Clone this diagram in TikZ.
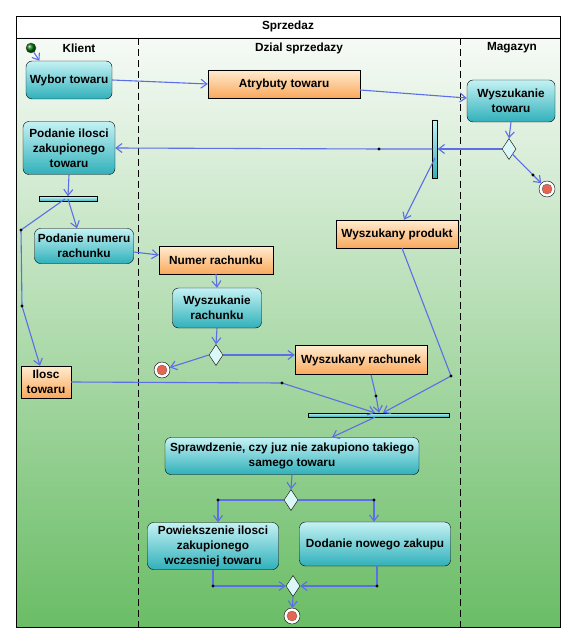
\documentclass[tikz,border=0pt]{standalone}
\usepackage{fontspec}
\setmainfont{Liberation Sans}
\usetikzlibrary{shapes.geometric}
\usetikzlibrary{arrows.meta}

\definecolor{flowblue}{RGB}{92,110,230}
\definecolor{actiontop}{RGB}{196,242,244}
\definecolor{actionbottom}{RGB}{48,176,186}
\definecolor{objecttop}{RGB}{255,236,208}
\definecolor{objectbottom}{RGB}{250,168,92}
\definecolor{lanetop}{RGB}{246,250,246}
\definecolor{lanebottom}{RGB}{106,189,102}
\definecolor{finalred}{RGB}{232,100,80}

\begin{document}
\begin{tikzpicture}[x=1pt,y=-1pt,
  font=\bfseries\fontsize{11.8}{15}\selectfont,
  action/.style 2 args={draw=black,rounded corners=6pt,
    top color=actiontop,bottom color=actionbottom,
    align=center,inner sep=2pt,
    minimum width=#1pt,minimum height=#2pt},
  object/.style 2 args={draw=black,
    top color=objecttop,bottom color=objectbottom,
    align=center,inner sep=2pt,
    minimum width=#1pt,minimum height=#2pt},
  syncbar/.style 2 args={draw=black,inner sep=0pt,
    top color=actiontop,bottom color=actionbottom,
    minimum width=#1pt,minimum height=#2pt},
  decision/.style={diamond,draw=black,fill=actiontop!60!white,
    inner sep=0pt,minimum width=14pt,minimum height=21pt},
  startnode/.style={circle,draw=black!70,inner sep=0pt,
    minimum size=10pt,ball color=green!45!black},
  endnode/.style={circle,draw=black,fill=white,inner sep=0pt,
    minimum size=16pt,
    path picture={\filldraw[fill=finalred,draw=black!60]
      (path picture bounding box.center) circle (5pt);}},
  flow/.style={draw=flowblue,line width=1.1pt,
    -{Straight Barb[length=6pt,width=9pt]}},
  lane/.style={dashed,dash pattern=on 7pt off 4pt,line width=0.8pt}]

\useasboundingbox
  (0,0)
  rectangle
  (576,644);
\fill[white]
  (0,0)
  rectangle
  (576,644);

% swimlanes
\shade[top color=lanetop,bottom color=lanebottom]
  (16,38)
  rectangle
  (560,627);
\draw[line width=0.9pt]
  (16,16)
  rectangle
  (560,627);
\draw[line width=0.9pt]
  (16,38)
  --
  (560,38);
\draw[lane]
  (138,38)
  --
  (138,627);
\draw[lane]
  (460,38)
  --
  (460,627);
\node (title) at (288,26) {Sprzedaz};
\node (klient) at (79,48) {Klient};
\node (dzial) at (299,48) {Dzial sprzedazy};
\node (magazyn) at (512,48) {Magazyn};

% nodes
\node[startnode] (start) at (31,48) {};
\node[action={86}{38}] (wybor) at (69,80) {Wybor towaru};
\node[object={152}{28}] (atrybuty) at (284,84) {Atrybuty towaru};
\node[action={88}{42}] (wyszTow) at (511,101) {Wyszukanie\\towaru};
\node[decision] (dec1) at (509,149) {};
\node[endnode] (end1) at (547,189) {};
\node[syncbar={5}{58}] (barV) at (435,149) {};
\node[action={92}{53}] (ilosci) at (69,148) {Podanie ilosci\\zakupionego\\towaru};
\node[syncbar={58}{5}] (forkH) at (68,199) {};
\node[action={99}{35}] (podNumer) at (84,246) {Podanie numeru\\rachunku};
\node[object={114}{28}] (numerRach) at (216,260) {Numer rachunku};
\node[object={122}{28}] (produkt) at (397,234) {Wyszukany produkt};
\node[action={89}{40}] (wyszRach) at (217,308) {Wyszukanie\\rachunku};
\node[decision] (dec2) at (216,355) {};
\node[endnode] (end2) at (162,370) {};
\node[object={132}{29}] (rachunek) at (361,360) {Wyszukany rachunek};
\node[object={50}{32}] (ilosc) at (46,382) {Ilosc\\towaru};
\node[syncbar={141}{4}] (joinH) at (379,415) {};
\node[action={254}{37}] (spraw) at (292,456) {Sprawdzenie, czy juz nie zakupiono takiego\\samego towaru};
\node[decision] (dec3) at (291,500) {};
\node[action={131}{47}] (powieksz) at (213,546) {Powiekszenie ilosci\\zakupionego\\wczesniej towaru};
\node[action={151}{44}] (dodanie) at (375,544) {Dodanie nowego zakupu};
\node[decision] (dec4) at (293,586) {};
\node[endnode] (end3) at (292,616) {};

% bend points
\coordinate (w1) at (533,175);
\coordinate (w2) at (379,149);
\coordinate (w3) at (21,230);
\coordinate (w4) at (22,306);
\coordinate (w5) at (282,383);
\coordinate (w6) at (376,396);
\coordinate (w7) at (451,376);
\coordinate (w8) at (218,500);
\coordinate (w9) at (374,500);
\coordinate (w10) at (213,586);
\coordinate (w11) at (377,586);

% flows
\draw[flow]
  (start)
  --
  (wybor.147);
\draw[flow]
  (wybor.east)
  --
  (atrybuty.west);
\draw[flow]
  ([yshift=-6pt]atrybuty.east)
  --
  ([yshift=3pt]wyszTow.west);
\draw[flow]
  (wyszTow.south)
  --
  (dec1.north);
\draw[flow]
  (dec1.west)
  --
  (barV.east);
\draw[flow]
  (dec1.south east)
  --
  (w1)
  --
  (end1);
\draw[flow]
  (barV.west)
  --
  (w2)
  --
  (ilosci.east);
\draw[flow]
  ([yshift=-9pt]barV.center)
  --
  ([xshift=7pt]produkt.north);
\draw[flow]
  (ilosci.south)
  --
  (forkH.north);
\draw[flow]
  (forkH.center)
  --
  ([xshift=-7pt]podNumer.north);
\draw[flow]
  ([xshift=-3pt]forkH.center)
  --
  (w3)
  --
  (w4)
  --
  ([xshift=-6pt]ilosc.north);
\draw[flow]
  ([yshift=-6pt]podNumer.east)
  --
  ([yshift=5pt]numerRach.west);
\draw[flow]
  (numerRach.south)
  --
  (wyszRach.north);
\draw[flow]
  (wyszRach.south)
  --
  (dec2.north);
\draw[flow]
  (dec2.west)
  --
  (end2);
\draw[flow]
  (dec2.east)
  --
  (dec2.east -| rachunek.west);
\draw[flow]
  (ilosc.east)
  --
  (w5)
  --
  ([xshift=-4pt]joinH.north);
\draw[flow]
  ([xshift=10pt]rachunek.south)
  --
  (w6)
  --
  (joinH.north);
\draw[flow]
  ([xshift=5pt]produkt.south)
  --
  (w7)
  --
  ([xshift=4pt]joinH.north);
\draw[flow]
  ([xshift=-4pt]joinH.south)
  --
  ([xshift=40pt]spraw.north);
\draw[flow]
  (spraw.south)
  --
  (dec3.north);
\draw[flow]
  (dec3.west)
  --
  (w8)
  --
  (w8 |- powieksz.north);
\draw[flow]
  (dec3.east)
  --
  (w9)
  --
  (w9 |- dodanie.north);
\draw[flow]
  (powieksz.south)
  --
  (w10)
  --
  (dec4.west);
\draw[flow]
  (w11 |- dodanie.south)
  --
  (w11)
  --
  (dec4.east);
\draw[flow]
  (dec4.south)
  --
  (end3);

\foreach \w in {w1,w2,w3,w4,w5,w6,w7,w8,w9,w10,w11}
  \fill
    (\w)
    circle
    [radius=1.6pt];
\end{tikzpicture}
\end{document}
